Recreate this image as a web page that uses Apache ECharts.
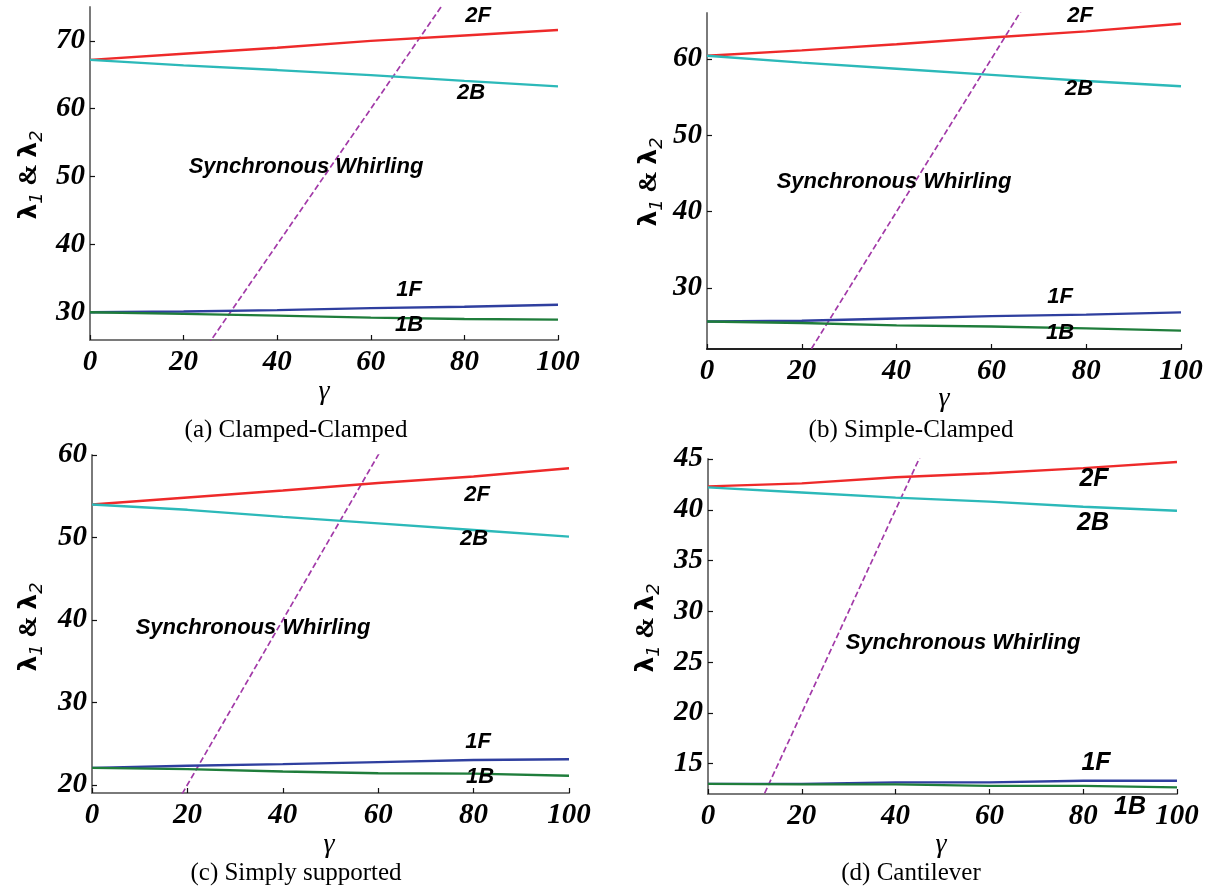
<!DOCTYPE html>
<html>
<head>
<meta charset="utf-8">
<script src="https://cdn.jsdelivr.net/npm/echarts@6/dist/echarts.min.js"></script>
<style>
html,body{margin:0;padding:0;background:#fff;}
#chart{width:1211px;height:891px;}
</style>
</head>
<body>
<div id="chart"></div>
<script>
// ---- data ----
const gamma = [0, 20, 40, 60, 80, 100];
const xTicks = [0, 20, 40, 60, 80, 100];
const modeNames = ['2F', '2B', '1F', '1B'];
const syncName = 'Synchronous Whirling';
const syncLine = [[0, 0], [100, 100]]; // lambda = gamma

const captions = ['(a) Clamped-Clamped', '(b) Simple-Clamped', '(c) Simply supported', '(d) Cantilever'];

const yTicksA = [30, 40, 50, 60, 70];
const yTicksB = [30, 40, 50, 60];
const yTicksC = [20, 30, 40, 50, 60];
const yTicksD = [15, 20, 25, 30, 35, 40, 45];

// clamped-clamped
const a2F = [67.2, 68.1, 69.0, 70.0, 70.8, 71.6];
const a2B = [67.2, 66.4, 65.7, 64.95, 64.1, 63.3];
const a1F = [30.0, 30.1, 30.3, 30.6, 30.8, 31.1];
const a1B = [30.0, 29.75, 29.5, 29.2, 29.0, 28.9];
// simple-clamped
const b2F = [60.4, 61.1, 61.9, 62.8, 63.6, 64.6];
const b2B = [60.4, 59.5, 58.7, 57.9, 57.1, 56.4];
const b1F = [25.6, 25.7, 26.0, 26.3, 26.5, 26.8];
const b1B = [25.6, 25.4, 25.1, 24.95, 24.7, 24.4];
// simply supported
const c2F = [54.0, 54.85, 55.7, 56.6, 57.4, 58.4];
const c2B = [54.0, 53.35, 52.5, 51.7, 50.9, 50.1];
const c1F = [22.05, 22.3, 22.5, 22.75, 23.0, 23.1];
const c1B = [22.05, 21.9, 21.6, 21.4, 21.35, 21.1];
// cantilever
const d2F = [42.3, 42.6, 43.2, 43.6, 44.1, 44.7];
const d2B = [42.2, 41.7, 41.2, 40.8, 40.3, 39.9];
const d1F = [13.0, 13.0, 13.15, 13.15, 13.3, 13.3];
const d1B = [13.0, 12.95, 12.95, 12.8, 12.8, 12.65];

// ---- layout / style ----
const colors = {'2F': '#ee2a2a', '2B': '#2cb9b9', '1F': '#2f3f9f', '1B': '#1f7d3b'};
const syncColor = '#a23aa8';

const panels = [
  {grid: {left: 90, top: 7, width: 468, height: 333}, yMin: 25.9, yMax: 75, yTicks: yTicksA,
   series: [a2F, a2B, a1F, a1B], xAxisColor: '#7a7a7a',
   labelPos: [[478, 16], [471, 93], [409, 290], [409, 325]], syncPos: [306, 167], labelSize: 22,
   gammaPos: [324, 392], yTitlePos: [29, 175], captionPos: [296, 430]},
  {grid: {left: 707, top: 13, width: 474, height: 336}, yMin: 22, yMax: 66, yTicks: yTicksB,
   series: [b2F, b2B, b1F, b1B], xAxisColor: '#222',
   labelPos: [[1080, 16], [1079, 89], [1060, 297], [1060, 333]], syncPos: [894, 182], labelSize: 22,
   gammaPos: [944, 399], yTitlePos: [649, 182], captionPos: [911, 430]},
  {grid: {left: 92, top: 455, width: 477, height: 338}, yMin: 19, yMax: 60, yTicks: yTicksC,
   series: [c2F, c2B, c1F, c1B], xAxisColor: '#7a7a7a',
   labelPos: [[477, 495], [474, 539], [478, 742], [480, 777]], syncPos: [253, 628], labelSize: 22,
   gammaPos: [329, 845], yTitlePos: [29, 627], captionPos: [296, 873]},
  {grid: {left: 708, top: 459, width: 469, height: 335}, yMin: 12, yMax: 45, yTicks: yTicksD,
   series: [d2F, d2B, d1F, d1B], xAxisColor: '#7a7a7a',
   labelPos: [[1094, 479], [1093, 523], [1096, 763], [1130, 807]], syncPos: [963, 643], labelSize: 25,
   gammaPos: [941, 845], yTitlePos: [646, 628], captionPos: [911, 873]}
];

const tickFont = {fontFamily: 'Liberation Serif', fontWeight: 'bold', fontStyle: 'italic', fontSize: 29, color: '#000'};
const annFont = 'Liberation Sans';

const grids = [], xAxes = [], yAxes = [], series = [], graphics = [];

panels.forEach((p, i) => {
  grids.push(Object.assign({containLabel: false}, p.grid));
  xAxes.push({
    type: 'value', gridIndex: i, min: 0, max: 100, interval: 20,
    axisLine: {show: true, onZero: false, lineStyle: {color: p.xAxisColor, width: 2}},
    axisTick: {show: true, inside: true, length: 5, lineStyle: {color: '#111', width: 1.2}},
    axisLabel: Object.assign({margin: 8, customValues: xTicks}, tickFont),
    splitLine: {show: false}
  });
  yAxes.push({
    type: 'value', gridIndex: i, min: p.yMin, max: p.yMax,
    axisLine: {show: true, onZero: false, lineStyle: {color: '#7a7a7a', width: 2}},
    axisTick: {show: true, inside: true, length: 5, customValues: p.yTicks, lineStyle: {color: '#111', width: 1.2}},
    axisLabel: Object.assign({margin: 5, customValues: p.yTicks, showMinLabel: true, showMaxLabel: true}, tickFont),
    splitLine: {show: false}
  });
  modeNames.forEach((m, k) => {
    series.push({
      type: 'line', name: m, xAxisIndex: i, yAxisIndex: i,
      data: gamma.map((g, j) => [g, p.series[k][j]]),
      symbol: 'none', smooth: false, clip: true,
      lineStyle: {color: colors[m], width: 2.4}, z: 3
    });
  });
  series.push({
    type: 'line', name: syncName, xAxisIndex: i, yAxisIndex: i, data: syncLine,
    symbol: 'none', clip: true, lineStyle: {color: syncColor, width: 1.7, type: [6, 3]}, z: 2
  });

  // annotations
  modeNames.forEach((m, k) => {
    graphics.push({type: 'text', x: p.labelPos[k][0], y: p.labelPos[k][1], z: 10,
      style: {text: m, font: `italic bold ${p.labelSize}px "${annFont}"`, fill: '#000', align: 'center', verticalAlign: 'middle'}});
  });
  graphics.push({type: 'text', x: p.syncPos[0], y: p.syncPos[1], z: 10,
    style: {text: syncName, font: `italic bold 22px "${annFont}"`, fill: '#000', align: 'center', verticalAlign: 'middle'}});
  graphics.push({type: 'text', x: p.gammaPos[0], y: p.gammaPos[1], z: 10,
    style: {text: 'γ', font: 'italic 28px "Liberation Serif"', fill: '#000', align: 'center', verticalAlign: 'middle'}});
  graphics.push({type: 'text', x: p.captionPos[0], y: p.captionPos[1], z: 10,
    style: {text: captions[i], font: '25px "Liberation Serif"', fill: '#000', align: 'center', verticalAlign: 'middle'}});
  graphics.push({type: 'text', x: p.yTitlePos[0], y: p.yTitlePos[1], rotation: Math.PI / 2, z: 10,
    style: {text: '{l|λ}{s|1}{a| & }{l|λ}{s|2}', align: 'center', verticalAlign: 'middle', fill: '#000',
      rich: {
        l: {fontFamily: 'DejaVu Sans', fontWeight: 'bold', fontSize: 25, lineHeight: 34, verticalAlign: 'middle'},
        s: {fontFamily: 'DejaVu Sans', fontStyle: 'italic', fontSize: 18, lineHeight: 34, verticalAlign: 'bottom'},
        a: {fontFamily: 'Liberation Serif', fontWeight: 'bold', fontSize: 26, lineHeight: 34, verticalAlign: 'middle'}
      }}});
});

const chart = echarts.init(document.getElementById('chart'), null, {renderer: 'canvas'});
chart.setOption({
  animation: false,
  backgroundColor: '#fff',
  grid: grids, xAxis: xAxes, yAxis: yAxes, series: series, graphic: graphics
});
</script>
</body>
</html>
